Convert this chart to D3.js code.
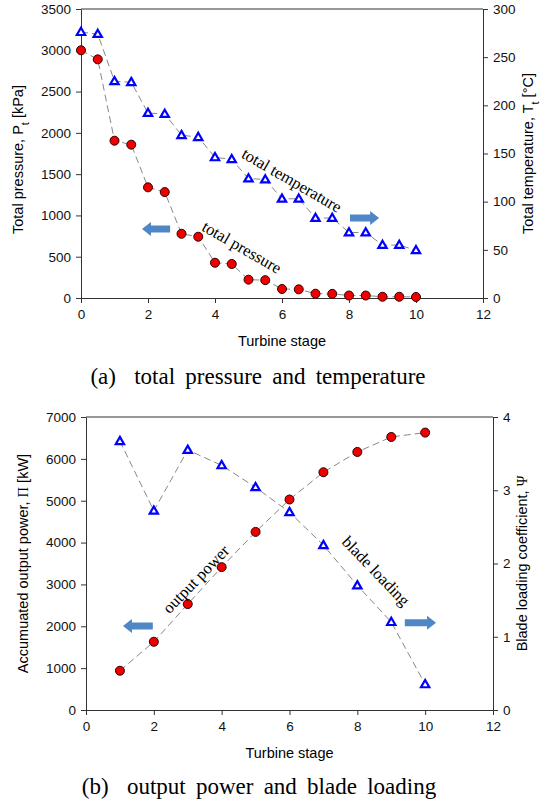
<!DOCTYPE html>
<html>
<head>
<meta charset="utf-8">
<script src="https://cdn.jsdelivr.net/npm/d3@7"></script>
<style>
  body { margin: 0; background: #fff; }
  svg { display: block; }
</style>
</head>
<body>
<div id="wrapper"></div>
<script>
// (a) pressure / temperature, stages 0..10 in half steps
const stagesA = [0, 0.5, 1, 1.5, 2, 2.5, 3, 3.5, 4, 4.5, 5, 5.5, 6, 6.5, 7, 7.5, 8, 8.5, 9, 9.5, 10]
const pressure = [3000, 2890, 1905, 1857, 1340, 1283, 778, 742, 427, 412, 222, 216, 109, 105, 52, 50, 30, 30, 15, 15, 12]
const temperature = [276, 274, 225, 224, 192, 191, 169, 167, 146, 144, 124, 123, 103, 103, 83, 83, 68, 68, 55, 55, 49.5]

// (b) power / blade loading, stages 1..10
const stagesB = [1, 2, 3, 4, 5, 6, 7, 8, 9, 10]
const power = [938, 1630, 2530, 3413, 4255, 5029, 5680, 6165, 6523, 6627]
const loading = [3.67, 2.72, 3.55, 3.34, 3.04, 2.70, 2.25, 1.70, 1.20, 0.35]

const xTicks = [0, 2, 4, 6, 8, 10, 12]
const pressureTicks = [0, 500, 1000, 1500, 2000, 2500, 3000, 3500]
const tempTicks = [0, 50, 100, 150, 200, 250, 300]
const powerTicks = [0, 1000, 2000, 3000, 4000, 5000, 6000, 7000]
const loadingTicks = [0, 1, 2, 3, 4]

const svg = d3.select("#wrapper")
    .append("svg")
    .attr("width", 551)
    .attr("height", 803)

const sans = "Liberation Sans, Arial, sans-serif"
const serif = "Liberation Serif, Times New Roman, serif"
const plain = d3.format("d")

// block arrow pointing right or left, from xa to xb at y
const arrowPath = (xa, xb, y, dir) => {
    const head = 9, bh = 3.5, hh = 7
    if (dir > 0) {
        return `M${xa},${y - bh}H${xb - head}V${y - hh}L${xb},${y}L${xb - head},${y + hh}V${y + bh}H${xa}Z`
    }
    return `M${xb},${y - bh}H${xa + head}V${y - hh}L${xa},${y}L${xa + head},${y + hh}V${y + bh}H${xb}Z`
}

function drawPanel(cfg) {
    const g = svg.append("g")
    const x = d3.scaleLinear().domain([0, 12]).range([cfg.left, cfg.right])
    const yL = d3.scaleLinear().domain(cfg.leftDomain).range([cfg.bottom, cfg.top])
    const yR = d3.scaleLinear().domain(cfg.rightDomain).range([cfg.bottom, cfg.top])

    // frame top line
    g.append("line")
        .attr("x1", cfg.left).attr("x2", cfg.right)
        .attr("y1", cfg.top).attr("y2", cfg.top)
        .attr("stroke", "#333")

    const styleAxis = sel => {
        sel.selectAll("path").attr("stroke", "#333")
        sel.selectAll("line").attr("stroke", "#333")
        sel.selectAll("text")
            .style("font-family", sans)
            .style("font-size", "13.5px")
            .attr("fill", "#111")
    }

    g.append("g")
        .attr("transform", `translate(0,${cfg.bottom})`)
        .call(d3.axisBottom(x).tickValues(xTicks).tickFormat(plain)
            .tickSize(5).tickSizeOuter(0).tickPadding(6))
        .call(styleAxis)

    g.append("g")
        .attr("transform", `translate(${cfg.left},0)`)
        .call(d3.axisLeft(yL).tickValues(cfg.leftTicks).tickFormat(plain)
            .tickSize(5).tickSizeOuter(0).tickPadding(5))
        .call(styleAxis)

    g.append("g")
        .attr("transform", `translate(${cfg.right},0)`)
        .call(d3.axisRight(yR).tickValues(cfg.rightTicks).tickFormat(plain)
            .tickSize(5).tickSizeOuter(0).tickPadding(5))
        .call(styleAxis)

    // lines
    const lineL = d3.line().x((d, i) => x(cfg.xs[i])).y(d => yL(d))
    const lineR = d3.line().x((d, i) => x(cfg.xs[i])).y(d => yR(d))

    g.append("path").datum(cfg.rightVals)
        .attr("d", lineR)
        .attr("fill", "none")
        .attr("stroke", "#888")
        .attr("stroke-dasharray", "7,4")

    g.append("path").datum(cfg.leftVals)
        .attr("d", lineL)
        .attr("fill", "none")
        .attr("stroke", "#888")
        .attr("stroke-dasharray", "7,4")

    const tri = d3.symbol().type(d3.symbolTriangle).size(30)
    g.append("g").selectAll("path")
        .data(cfg.rightVals)
        .join("path")
        .attr("d", tri)
        .attr("transform", (d, i) => `translate(${x(cfg.xs[i])},${yR(d) + 0.5})`)
        .attr("fill", "#fff")
        .attr("stroke", "#0000ff")
        .attr("stroke-width", 2.2)

    g.append("g").selectAll("circle")
        .data(cfg.leftVals)
        .join("circle")
        .attr("cx", (d, i) => x(cfg.xs[i]))
        .attr("cy", d => yL(d))
        .attr("r", 4.5)
        .attr("fill", "#ee0000")
        .attr("stroke", "#300")
        .attr("stroke-width", 1)

    // axis titles
    const midY = (cfg.top + cfg.bottom) / 2
    g.append("text")
        .attr("transform", `translate(${cfg.left - 58},${midY + cfg.leftTitleDy}) rotate(-90)`)
        .attr("text-anchor", "middle")
        .style("font-family", sans)
        .style("font-size", "14.5px")
        .call(cfg.leftTitle)

    g.append("text")
        .attr("transform", `translate(${cfg.right + cfg.rightTitleDx},${midY}) rotate(-90)`)
        .attr("text-anchor", "middle")
        .style("font-family", sans)
        .style("font-size", "14.5px")
        .call(cfg.rightTitle)

    g.append("text")
        .attr("x", (cfg.left + cfg.right) / 2)
        .attr("y", cfg.bottom + 48)
        .attr("text-anchor", "middle")
        .style("font-family", sans)
        .style("font-size", "14.5px")
        .text("Turbine stage")

    const cap = g.append("text")
        .attr("x", cfg.captionX)
        .attr("y", cfg.bottom + cfg.captionDy)
        .attr("text-anchor", "middle")
        .style("font-family", serif)
        .style("font-size", "23px")
        .style("word-spacing", "4.5px")
    cap.append("tspan").text(cfg.caption[0])
    cap.append("tspan").attr("dx", 8).text(" " + cfg.caption[1])

    // annotations
    cfg.notes.forEach(n => {
        g.append("text")
            .attr("transform", `translate(${n.px},${n.py}) rotate(${n.angle})`)
            .attr("text-anchor", "middle")
            .style("font-family", serif)
            .style("font-size", "16.5px")
            .text(n.text)
    })

    cfg.arrows.forEach(a => {
        const ys = a.axis === "left" ? yL : yR
        g.append("path")
            .attr("d", arrowPath(x(a.x0), x(a.x1), ys(a.y), a.dir))
            .attr("fill", "#4f86c6")
    })
}

const sub = (sel, main, s, tail) => {
    sel.append("tspan").text(main)
    sel.append("tspan").text(s).attr("baseline-shift", "sub").style("font-size", "11px")
    sel.append("tspan").text(tail)
}

drawPanel({
    left: 81, right: 483, top: 9, bottom: 298,
    leftDomain: [0, 3500], rightDomain: [0, 300],
    leftTicks: pressureTicks, rightTicks: tempTicks,
    xs: stagesA, leftVals: pressure, rightVals: temperature,
    leftTitle: sel => sub(sel, "Total pressure, P", "t", " [kPa]"),
    leftTitleDy: 6,
    rightTitle: sel => sub(sel, "Total temperature, T", "t", " [°C]"),
    rightTitleDx: 50,
    caption: ["(a)", "total pressure and temperature"],
    captionX: 258, captionDy: 86,
    notes: [
        { text: "total temperature", px: 289, py: 185, angle: 30 },
        { text: "total pressure", px: 239, py: 252, angle: 30 }
    ],
    arrows: [
        { x0: 1.82, x1: 2.66, y: 835, axis: "left", dir: -1 },
        { x0: 8.03, x1: 8.9, y: 83, axis: "right", dir: 1 }
    ]
})

drawPanel({
    left: 86, right: 493, top: 417, bottom: 710,
    leftDomain: [0, 7000], rightDomain: [0, 4],
    leftTicks: powerTicks, rightTicks: loadingTicks,
    xs: stagesB, leftVals: power, rightVals: loading,
    leftTitle: sel => {
        sel.append("tspan").text("Accumuated output power, ")
        sel.append("tspan").text("Π").style("font-family", serif)
        sel.append("tspan").text(" [kW]")
    },
    leftTitleDy: 0,
    rightTitle: sel => {
        sel.append("tspan").text("Blade loading coefficient, ")
        sel.append("tspan").text("Ψ").style("font-family", serif)
    },
    rightTitleDx: 34,
    caption: ["(b)", "output power and blade loading"],
    captionX: 259, captionDy: 84,
    notes: [
        { text: "output power", px: 200, py: 583, angle: -46 },
        { text: "blade loading", px: 372, py: 575, angle: 46 }
    ],
    arrows: [
        { x0: 1.09, x1: 1.97, y: 2005, axis: "left", dir: -1 },
        { x0: 9.4, x1: 10.32, y: 1.19, axis: "right", dir: 1 }
    ]
})
</script>
</body>
</html>
